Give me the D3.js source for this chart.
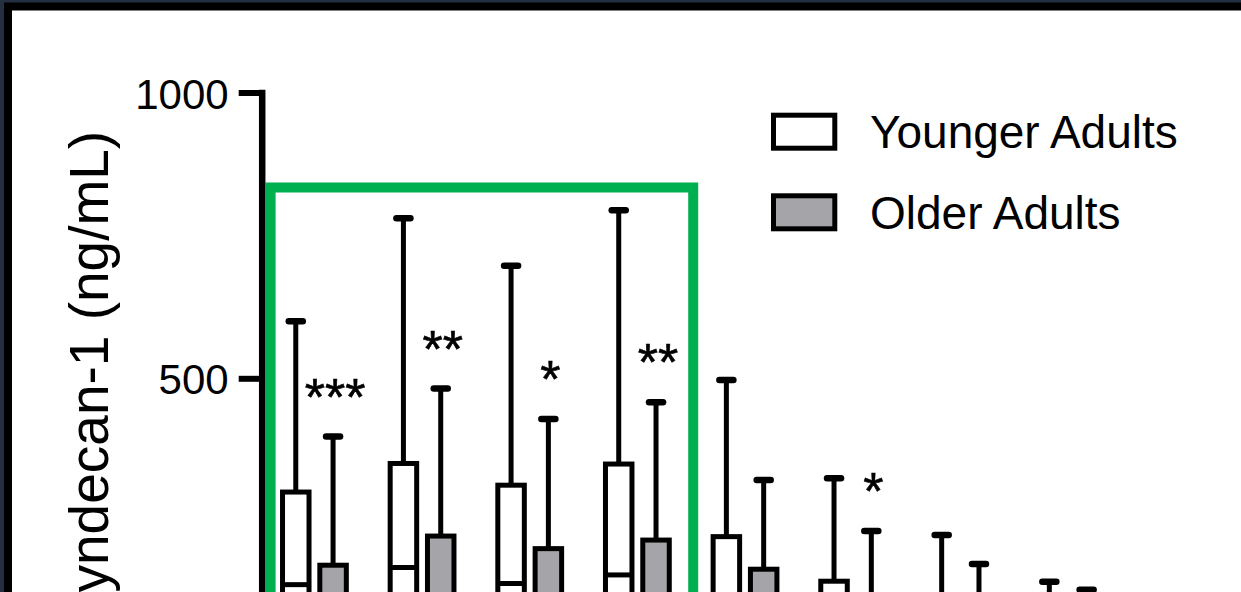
<!DOCTYPE html>
<html>
<head>
<meta charset="utf-8">
<script src="https://cdn.jsdelivr.net/npm/d3@7"></script>
<style>
  html, body { margin: 0; padding: 0; background: #243041; }
  svg { display: block; }
  text { font-family: "Liberation Sans", Arial, sans-serif; fill: #000; }
</style>
</head>
<body>
<svg id="chart" width="1241" height="592"></svg>
<script>
// Time points (x axis) and syndecan-1 box-plot summaries (ng/mL)
const categories = ["T1", "T2", "T3", "T4", "T5", "T6", "T7", "T8"];
const seriesNames = ["Younger Adults", "Older Adults"];

const youngMax = [600, 780, 697, 794, 497, 325, 226, 144];
const youngQ3  = [301, 351, 313, 350, 223, 145, 105, 72];
const youngMed = [139, 169, 141, 156, 100, 72, 52, 36];
const youngQ1  = [62, 80, 64, 72, 46, 32, 22, 16];
const youngMin = [12, 16, 11, 14, 9, 6, 5, 4];

const olderMax = [398, 482, 429, 458, 322, 233, 175, 130];
const olderQ3  = [173, 224, 202, 217, 166, 110, 82, 56];
const olderMed = [92, 112, 98, 106, 78, 52, 40, 28];
const olderQ1  = [40, 52, 44, 48, 34, 24, 18, 12];
const olderMin = [8, 10, 8, 9, 6, 4, 3, 2];

const significance = ["***", "**", "*", "**", "", "*", "", ""];
const yTicks = [500, 1000];

const svg = d3.select("#chart");
const W = 1241, H = 592;

// Slide frame: black border round a white panel
svg.append("rect").attr("x", 8).attr("y", 6.5).attr("width", W + 20).attr("height", H + 20)
  .attr("fill", "#fff").attr("stroke", "#000").attr("stroke-width", 8);

const y = d3.scaleLinear().domain([0, 1000]).range([664.1, 92.5]);
const x = d3.scaleBand().domain(categories).range([260.6, 260.6 + 8 * 107.65]).padding(0);
const xs = d3.scaleBand().domain(seriesNames).range([0, x.bandwidth()]).paddingInner(0).paddingOuter(0.443);

const fills = { "Younger Adults": "#ffffff", "Older Adults": "#a5a4a9" };

const boxes = [];
categories.forEach((c, i) => {
  boxes.push({ cat: c, s: seriesNames[0], max: youngMax[i], q3: youngQ3[i], med: youngMed[i], q1: youngQ1[i], min: youngMin[i] });
  boxes.push({ cat: c, s: seriesNames[1], max: olderMax[i], q3: olderQ3[i], med: olderMed[i], q1: olderQ1[i], min: olderMin[i] });
});
const cx = d => x(d.cat) + xs(d.s) + xs.bandwidth() / 2;

// Highlight frame round the first four time points
const hl0 = x(categories[0]), hl1 = x(categories[3]) + x.bandwidth();
svg.append("path")
  .attr("d", `M${hl0 + 10},${H + 20} V187.5 H${hl1 + 2} V${H + 20}`)
  .attr("fill", "none").attr("stroke", "#00b050").attr("stroke-width", 10);

const g = svg.append("g");
const bw = 26.5, capHalf = 7;

// Whiskers
g.selectAll(".whisker").data(boxes).join("line")
  .attr("x1", cx).attr("x2", cx)
  .attr("y1", d => y(d.max)).attr("y2", d => y(d.min))
  .attr("stroke", "#000").attr("stroke-width", 5);
g.selectAll(".capTop").data(boxes).join("line")
  .attr("x1", d => cx(d) - capHalf).attr("x2", d => cx(d) + capHalf)
  .attr("y1", d => y(d.max)).attr("y2", d => y(d.max))
  .attr("stroke", "#000").attr("stroke-width", 6.5).attr("stroke-linecap", "round");
g.selectAll(".capBot").data(boxes).join("line")
  .attr("x1", d => cx(d) - capHalf).attr("x2", d => cx(d) + capHalf)
  .attr("y1", d => y(d.min)).attr("y2", d => y(d.min))
  .attr("stroke", "#000").attr("stroke-width", 6.5).attr("stroke-linecap", "round");

// Interquartile boxes and medians
g.selectAll(".box").data(boxes).join("rect")
  .attr("x", d => cx(d) - bw / 2).attr("width", bw)
  .attr("y", d => y(d.q3)).attr("height", d => y(d.q1) - y(d.q3))
  .attr("fill", d => fills[d.s]).attr("stroke", "#000").attr("stroke-width", 5);
g.selectAll(".median").data(boxes).join("line")
  .attr("x1", d => cx(d) - bw / 2).attr("x2", d => cx(d) + bw / 2)
  .attr("y1", d => y(d.med)).attr("y2", d => y(d.med))
  .attr("stroke", "#000").attr("stroke-width", 5);

// Significance marks above the older-adult whiskers
g.selectAll(".sig").data(categories.map((c, i) => ({ c, s: significance[i], top: olderMax[i] })).filter(d => d.s))
  .join("text")
  .attr("x", d => x(d.c) + xs(seriesNames[1]) + xs.bandwidth() / 2 + 2)
  .attr("y", d => y(d.top) - 22)
  .attr("text-anchor", "middle").attr("font-size", 52)
  .attr("stroke", "#000").attr("stroke-width", 0.6)
  .text(d => d.s);

// Y axis
const yAxis = svg.append("g").attr("transform", "translate(261.7,0)")
  .call(d3.axisLeft(y).tickValues(yTicks).tickSize(23).tickSizeOuter(0).tickPadding(10).tickFormat(d3.format("d")));
yAxis.select(".domain").attr("stroke", "#000").attr("stroke-width", 6.5).attr("stroke-linecap", "square");
yAxis.selectAll(".tick line").attr("stroke", "#000").attr("stroke-width", 6);
yAxis.selectAll(".tick text").attr("font-size", 42).attr("dy", "0.37em")
  .attr("font-family", "'Liberation Sans', Arial, sans-serif").attr("fill", "#000");

svg.append("text")
  .attr("transform", "translate(108,380) rotate(-90)")
  .attr("text-anchor", "middle").attr("font-size", 55)
  .text("Syndecan-1 (ng/mL)");

// Legend
const legend = svg.append("g");
const legY = [115.2, 195.8];
seriesNames.forEach((s, i) => {
  legend.append("rect").attr("x", 773.5).attr("y", legY[i]).attr("width", 61.3).attr("height", 33)
    .attr("fill", fills[s]).attr("stroke", "#000").attr("stroke-width", 5);
  legend.append("text").attr("x", 870).attr("y", legY[i] + 33).attr("font-size", 46).text(s);
});
</script>
</body>
</html>
